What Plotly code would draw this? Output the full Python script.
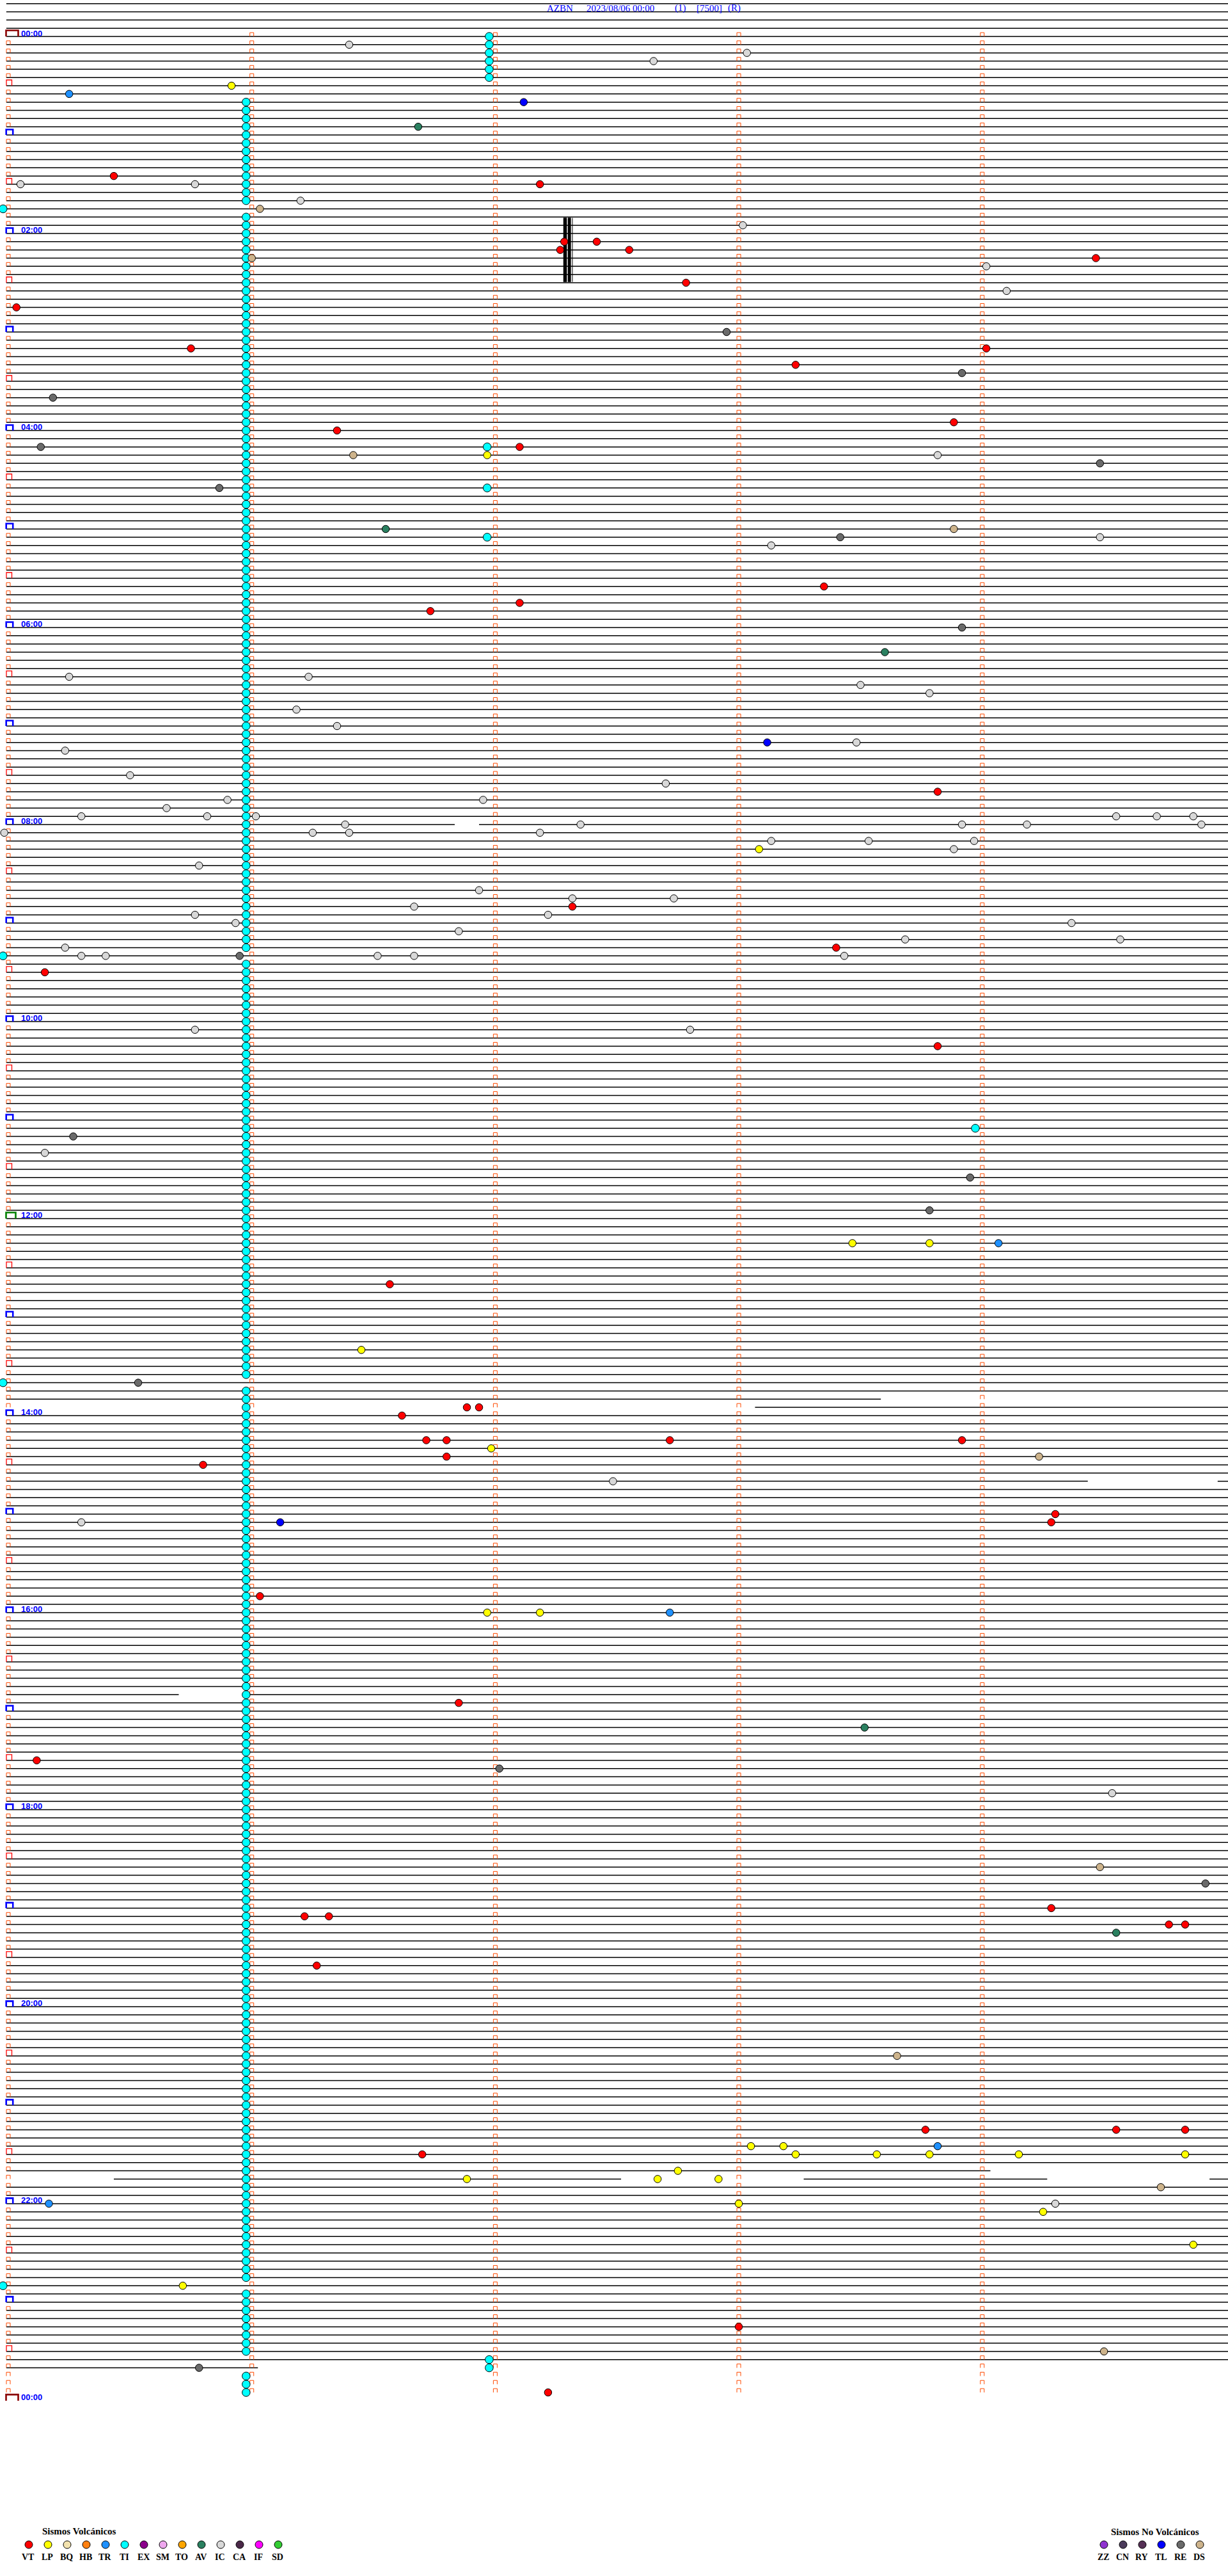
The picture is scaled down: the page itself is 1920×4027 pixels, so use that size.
import plotly.graph_objects as go

# ---------------- DATA ----------------
STATION = "AZBN"
DATE_TXT = "2023/08/06 00:00"
CHANNEL_TXT = "(1)"
SCALE_TXT = "[7500]"
MODE_TXT = "(R)"

ROW_MINUTES = 5            # each helicorder row = 5 minutes
N_ROWS = 288               # 24 h
PRE_ROWS = 4               # empty traces drawn above 00:00
MINUTE_MARKS = [0, 60, 120, 180, 240]   # seconds inside a row

# data gaps (row start "HH:MM" -> list of (start_s, end_s) without signal)
GAPS = {
    "08:00": [(110, 116)],
    "13:50": [(215, 302)],
    "13:55": [(-2, 184)],
    "14:40": [(266, 298)],
    "16:50": [(42, 58)],
    "21:40": [(242, 302)],
    "21:45": [(-2, 26), (151, 196), (256, 296)],
    "23:40": [(61.5, 302)],
    "23:45": [(-2, 302)],
    "23:50": [(-2, 302)],
    "23:55": [(-2, 302)],
}

# saturated (clipped) signal block: rows range and seconds
SAT_ROWS = (22.1, 29.9)
SAT_SEC = [(136.8, 137.6), (137.9, 138.6)]
SAT_LINE_SEC = 139.0

# periodic TI events column (runs of rows, "HH:MM" inclusive) at second TI_COL_SEC
TI_COL_SEC = 58.6
TI_COL_RUNS = [("00:40", "01:40"), ("01:50", "09:15"), ("09:25", "13:35"),
               ("13:45", "22:45"), ("22:55", "23:30"), ("23:45", "23:55")]

# events: type -> list of (row "HH:MM", second inside the row)
EVENTS = {
    "VT": [("01:25", 26), ("01:30", 131), ("02:05", 137), ("02:10", 136), ("02:05", 145),
           ("02:10", 153), ("02:30", 167), ("02:15", 268), ("02:45", 2), ("03:10", 45),
           ("03:10", 241), ("03:20", 194), ("03:55", 233), ("04:00", 81), ("04:10", 126),
           ("05:35", 201), ("05:45", 126), ("05:50", 104), ("07:40", 229), ("08:50", 139),
           ("09:15", 204), ("09:30", 9), ("10:15", 229), ("12:40", 94), ("13:55", 113),
           ("13:55", 116), ("14:00", 97), ("14:15", 103), ("14:15", 108), ("14:25", 108),
           ("14:15", 163), ("14:15", 235), ("14:30", 48), ("15:00", 258), ("15:05", 257),
           ("15:50", 62), ("16:55", 111), ("17:30", 7), ("19:00", 257), ("19:05", 73),
           ("19:05", 79), ("19:10", 286), ("19:10", 290), ("19:35", 76), ("21:15", 226),
           ("21:15", 273), ("21:15", 290), ("21:30", 102), ("23:15", 180), ("23:55", 133)],
    "LP": [("00:30", 55), ("04:15", 118), ("08:15", 185), ("12:15", 208), ("12:15", 227),
           ("13:20", 87), ("14:20", 119), ("16:00", 118), ("16:00", 131), ("21:25", 183),
           ("21:25", 191), ("21:30", 194), ("21:30", 214), ("21:30", 227), ("21:30", 249),
           ("21:30", 290), ("21:40", 165), ("21:45", 113), ("21:45", 160), ("21:45", 175),
           ("22:00", 180), ("22:05", 255), ("22:25", 292), ("22:50", 43)],
    "TR": [("00:35", 15), ("12:15", 244), ("16:00", 163), ("21:25", 229), ("22:00", 10)],
    "TI": [("00:00", 118.5), ("00:05", 118.5), ("00:10", 118.5), ("00:15", 118.5),
           ("00:20", 118.5), ("00:25", 118.5), ("04:10", 118), ("04:35", 118),
           ("05:05", 118), ("23:35", 118.5), ("23:40", 118.5), ("01:45", -1.3),
           ("09:20", -1.3), ("13:40", -1.3), ("22:50", -1.3), ("11:05", 238.3)],
    "AV": [("00:55", 101), ("05:00", 93), ("06:15", 216), ("17:10", 211), ("19:15", 273)],
    "IC": [("00:05", 84), ("00:15", 159), ("00:10", 182), ("01:30", 3), ("01:30", 46),
           ("01:40", 72), ("01:55", 181), ("02:20", 241), ("02:35", 246), ("04:15", 229),
           ("05:10", 188), ("05:05", 269), ("06:30", 15), ("06:30", 74), ("06:35", 210),
           ("06:40", 227), ("06:50", 71), ("07:00", 81), ("07:15", 14), ("07:10", 209),
           ("07:30", 30), ("07:35", 162), ("07:45", 117), ("07:45", 54), ("07:50", 39),
           ("07:55", 49), ("07:55", 61), ("07:55", 18), ("08:00", 83), ("08:05", 75),
           ("08:05", 84), ("08:05", -1), ("08:00", 141), ("08:05", 131), ("08:10", 188),
           ("08:10", 212), ("08:15", 233), ("08:10", 238), ("08:00", 235), ("08:00", 251),
           ("07:55", 273), ("07:55", 283), ("07:55", 292), ("08:00", 294), ("08:25", 47),
           ("08:40", 116), ("08:50", 100), ("08:45", 139), ("08:55", 133), ("08:45", 164),
           ("09:05", 111), ("08:55", 46), ("09:00", 56), ("09:00", 262), ("09:10", 274),
           ("09:10", 221), ("09:20", 206), ("09:15", 14), ("09:20", 18), ("09:20", 24),
           ("09:20", 91), ("09:20", 100), ("10:05", 46), ("10:05", 168), ("11:20", 9),
           ("14:40", 149), ("15:05", 18), ("17:50", 272), ("22:00", 258)],
    "TL": [("00:40", 127), ("07:10", 187), ("15:05", 67)],
    "RE": [("03:00", 177), ("03:25", 235), ("03:40", 11), ("04:10", 8), ("04:20", 269),
           ("04:35", 52), ("05:05", 205), ("06:00", 235), ("09:20", 57), ("11:10", 16),
           ("11:35", 237), ("11:55", 227), ("13:40", 32), ("17:35", 121), ("18:45", 295),
           ("23:40", 47)],
    "DS": [("01:45", 62), ("02:15", 60), ("04:15", 85), ("05:00", 233), ("14:25", 254),
           ("18:35", 269), ("20:30", 219), ("21:50", 284), ("23:30", 270)],
}

VOLC_TYPES = ["VT", "LP", "BQ", "HB", "TR", "TI", "EX", "SM", "TO", "AV", "IC", "CA", "IF", "SD"]
NONV_TYPES = ["ZZ", "CN", "RY", "TL", "RE", "DS"]
COLORS = {
    "VT": "#FF0000", "LP": "#FFFF00", "BQ": "#F2E2AE", "HB": "#FF8010", "TR": "#1E90FF",
    "TI": "#00FFFF", "EX": "#8B008B", "SM": "#EEA8EE", "TO": "#FFA500", "AV": "#2A8060",
    "IC": "#D8D8D8", "CA": "#4A2848", "IF": "#FF00FF", "SD": "#33CC33",
    "ZZ": "#9033D0", "CN": "#4A3A5A", "RY": "#553055", "TL": "#0000FF", "RE": "#6A6A6A",
    "DS": "#CDB38B",
}
VOLC_TITLE = "Sismos Volcánicos"
NONV_TITLE = "Sismos No Volcánicos"

# ---------------- LAYOUT HELPERS ----------------
W, H = 1920, 4027
PX0, PXS = 13.0, 6.345     # pixel of second 0, pixels per second
PY0, PYS = 57.0, 12.833    # pixel of row 0, pixels per row


def px2s(px):
    return (px - PX0) / PXS


def py2r(py):
    return (py - PY0) / PYS


def dx(p):
    return p / PXS


def dy(p):
    return p / PYS


def row_of(t):
    h, m = map(int, t.split(":"))
    return (h * 60 + m) // ROW_MINUTES


def row_label(r):
    m = r * ROW_MINUTES
    return f"{(m // 60) % 24:02d}:{m % 60:02d}"


fig = go.Figure()

# ---- trace lines ----
lx, ly = [], []
X_START, X_END = -0.5, 301.5
for r in range(-PRE_ROWS, N_ROWS):
    gaps = sorted(GAPS.get(row_label(r), [])) if r >= 0 else []
    cur = X_START
    segs = []
    for g0, g1 in gaps:
        if g0 > cur:
            segs.append((cur, min(g0, X_END)))
        cur = max(cur, g1)
    if cur < X_END:
        segs.append((cur, X_END))
    for a, b in segs:
        if b - a > 0.01:
            lx += [a, b, None]
            ly += [r, r, None]
fig.add_trace(go.Scatter(x=lx, y=ly, mode="lines", line=dict(color="black", width=1.5),
                         hoverinfo="skip", showlegend=False))

# ---- minute marks and hour brackets ----
def bracket(xs, ys, x0, x1, r, h):
    xs += [x0, x0, x1, x1, None]
    ys += [r, r - h, r - h, r, None]


mx, my = [], []
bx_blue, by_blue, bx_red, by_red, bx_dred, by_dred, bx_green, by_green = [], [], [], [], [], [], [], []
for r in range(0, N_ROWS + 1):
    minute = r * ROW_MINUTES
    for m in MINUTE_MARKS:
        if r == N_ROWS:
            continue
        if m == 0 and minute % 30 == 0:
            continue
        bracket(mx, my, m - dx(3), m + dx(3), r, dy(6))
    if minute % 1440 == 0:
        bracket(bx_dred, by_dred, -dx(3.5), dx(15.5), r, dy(9.5))
    elif minute == 720:
        bracket(bx_green, by_green, -dx(3.5), dx(11.5), r, dy(9.5))
    elif minute % 60 == 0:
        bracket(bx_blue, by_blue, -dx(3.3), dx(7.2), r, dy(8.5))
    elif minute % 30 == 0:
        bracket(bx_red, by_red, -dx(3), dx(5.5), r, dy(9))

fig.add_trace(go.Scatter(x=mx, y=my, mode="lines", line=dict(color="#FF4A00", width=1),
                         hoverinfo="skip", showlegend=False))
for xs, ys, col, wd in [(bx_blue, by_blue, "#0000FF", 2.6), (bx_red, by_red, "#FF0000", 1.3),
                        (bx_dred, by_dred, "#8B0000", 2.6), (bx_green, by_green, "#008000", 2.6)]:
    fig.add_trace(go.Scatter(x=xs, y=ys, mode="lines", line=dict(color=col, width=wd),
                             hoverinfo="skip", showlegend=False))

# ---- saturated block ----
for s0, s1 in SAT_SEC:
    fig.add_trace(go.Scatter(x=[s0, s1, s1, s0, s0],
                             y=[SAT_ROWS[0], SAT_ROWS[0], SAT_ROWS[1], SAT_ROWS[1], SAT_ROWS[0]],
                             mode="lines", fill="toself", fillcolor="black",
                             line=dict(color="black", width=0.5), hoverinfo="skip", showlegend=False))
fig.add_trace(go.Scatter(x=[SAT_LINE_SEC, SAT_LINE_SEC], y=list(SAT_ROWS), mode="lines",
                         line=dict(color="black", width=1), hoverinfo="skip", showlegend=False))

# ---- events ----
ti_rows = []
for a, b in TI_COL_RUNS:
    ti_rows += list(range(row_of(a), row_of(b) + 1))
fig.add_trace(go.Scatter(x=[TI_COL_SEC] * len(ti_rows), y=ti_rows, mode="markers",
                         marker=dict(size=12.5, color=COLORS["TI"], line=dict(color="black", width=1)),
                         hoverinfo="skip", showlegend=False))
for typ, evs in EVENTS.items():
    fig.add_trace(go.Scatter(x=[s for _, s in evs], y=[row_of(t) for t, _ in evs], mode="markers",
                             marker=dict(size=12.5 if typ == "TI" else 11.5, color=COLORS[typ],
                                         line=dict(color="black", width=1)),
                             hoverinfo="skip", showlegend=False))

# ---- hour labels ----
ann = []
for r in range(0, N_ROWS + 1, 24):
    ann.append(dict(x=px2s(31), y=r - dy(5), xref="x", yref="y", text=f"<b>{row_label(r)}</b>",
                    showarrow=False, xanchor="left", yanchor="middle",
                    font=dict(family="Liberation Sans", size=13, color="#0000FF")))

# ---- title pieces ----
for txt, px in [(STATION, 853), (DATE_TXT, 915), (CHANNEL_TXT, 1053), (SCALE_TXT, 1087), (MODE_TXT, 1136)]:
    ann.append(dict(x=px2s(px), y=py2r(12.5), xref="x", yref="y", text=txt, showarrow=False,
                    xanchor="left", yanchor="middle",
                    font=dict(family="Liberation Serif", size=15, color="#0000FF")))

# ---- legend ----
def legend_block(types, x_first):
    xs = [x_first + 30 * i for i in range(len(types))]
    fig.add_trace(go.Scatter(x=[px2s(v) for v in xs], y=[py2r(3978)] * len(xs), mode="markers",
                             marker=dict(size=12, color=[COLORS[t] for t in types],
                                         line=dict(color="black", width=1)),
                             hoverinfo="skip", showlegend=False))
    for t, v in zip(types, xs):
        ann.append(dict(x=px2s(v - 1), y=py2r(3997), xref="x", yref="y", text=f"<b>{t}</b>",
                        showarrow=False, xanchor="center", yanchor="middle",
                        font=dict(family="Liberation Serif", size=14, color="black")))


legend_block(VOLC_TYPES, 45)
ann.append(dict(x=px2s(124), y=py2r(3957), xref="x", yref="y", text=f"<b>{VOLC_TITLE}</b>",
                showarrow=False, xanchor="center", yanchor="middle",
                font=dict(family="Liberation Serif", size=15, color="black")))
legend_block(NONV_TYPES, 1726)
ann.append(dict(x=px2s(1806), y=py2r(3958), xref="x", yref="y", text=f"<b>{NONV_TITLE}</b>",
                showarrow=False, xanchor="center", yanchor="middle",
                font=dict(family="Liberation Serif", size=15, color="black")))

fig.update_layout(
    width=W, height=H, autosize=False,
    margin=dict(l=0, r=0, t=0, b=0, pad=0),
    paper_bgcolor="white", plot_bgcolor="white",
    xaxis=dict(range=[px2s(0), px2s(W)], visible=False, fixedrange=True),
    yaxis=dict(range=[py2r(H), py2r(0)], visible=False, fixedrange=True),
    annotations=ann,
    showlegend=False,
)

fig.write_html("out.html", config={"displayModeBar": False, "staticPlot": True},
               post_script="document.body.style.margin='0';document.body.style.overflow='hidden';")
